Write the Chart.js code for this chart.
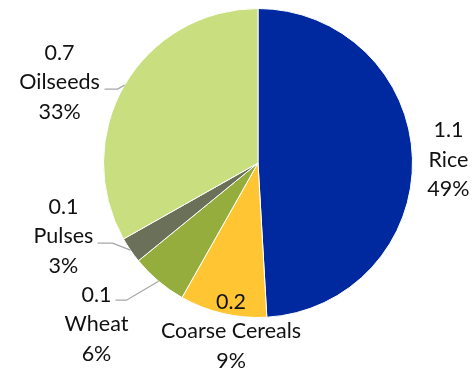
<!DOCTYPE html>
<html>
<head>
<meta charset="utf-8">
<script src="https://cdn.jsdelivr.net/npm/chart.js@4/dist/chart.umd.min.js"></script>
<style>
  html, body { margin: 0; padding: 0; background: #fff; }
  #cropChart { display: block; }
</style>
</head>
<body>
<canvas id="cropChart" width="472" height="368"></canvas>
<script>
// production share by crop
const categories = ['Rice', 'Coarse Cereals', 'Wheat', 'Pulses', 'Oilseeds'];
const values = [1.08, 0.2, 0.13, 0.06, 0.73];
const colors = ['#0029A0', '#FFC533', '#95AD3C', '#6B7158', '#C9DE7E'];

// where each label sits relative to the outer midpoint of its slice,
// and the optional leader line (elbow, end) for the small slices
const labelLayout = [
  { dx: 36, dy: 1 },
  { dx: 8, dy: 18 },
  { dx: -62, dy: 43, leader: [[-32, 19], [-43, 19]] },
  { dx: -67, dy: -14, leader: [[-18, -7], [-33, -7]] },
  { dx: -65, dy: -3, leader: [[-7, 4], [-20, 4]] }
];

const labelFont = '21.5px Lato, "Open Sans", sans-serif';
const lineHeight = 29.5;

const sliceLabels = {
  id: 'sliceLabels',
  afterDatasetsDraw(chart) {
    const ctx = chart.ctx;
    const meta = chart.getDatasetMeta(0);
    const data = chart.data.datasets[0].data;
    const total = data.reduce((a, b) => a + b, 0);

    ctx.save();
    meta.data.forEach((arc, i) => {
      const p = arc.getProps(['x', 'y', 'startAngle', 'endAngle', 'outerRadius'], true);
      const mid = (p.startAngle + p.endAngle) / 2;
      const ax = p.x + Math.cos(mid) * p.outerRadius;
      const ay = p.y + Math.sin(mid) * p.outerRadius;
      const lay = labelLayout[i];

      if (lay.leader) {
        ctx.beginPath();
        ctx.strokeStyle = '#A6A6A6';
        ctx.lineWidth = 1.3;
        ctx.moveTo(ax, ay);
        lay.leader.forEach(pt => ctx.lineTo(ax + pt[0], ay + pt[1]));
        ctx.stroke();
      }

      const lines = [
        data[i].toFixed(1),
        categories[i],
        Math.round(data[i] / total * 100) + '%'
      ];
      ctx.font = labelFont;
      ctx.fillStyle = '#111111';
      ctx.textAlign = 'center';
      ctx.textBaseline = 'middle';
      lines.forEach((t, k) => {
        ctx.fillText(t, ax + lay.dx, ay + lay.dy + (k - 1) * lineHeight);
      });
    });
    ctx.restore();
  }
};

new Chart(document.getElementById('cropChart').getContext('2d'), {
  type: 'pie',
  data: {
    labels: categories,
    datasets: [{
      data: values,
      backgroundColor: colors,
      borderColor: '#ffffff',
      borderWidth: 1
    }]
  },
  options: {
    responsive: false,
    animation: false,
    layout: { padding: { top: 8, bottom: 50, left: 103, right: 59 } },
    plugins: {
      legend: { display: false },
      tooltip: { enabled: false }
    }
  },
  plugins: [sliceLabels]
});
</script>
</body>
</html>
